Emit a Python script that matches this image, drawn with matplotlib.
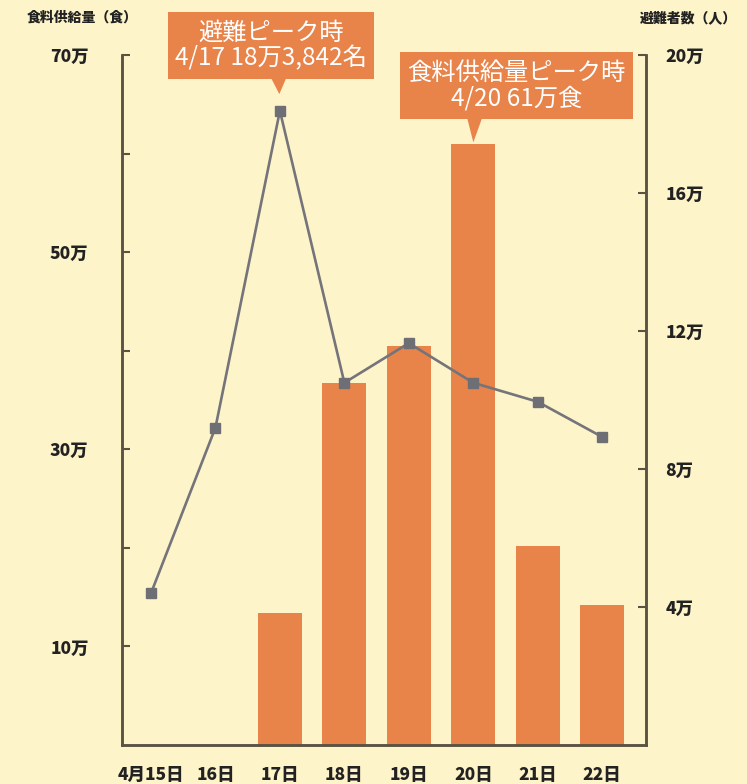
import numpy as np
import matplotlib
matplotlib.use("Agg")
import matplotlib.pyplot as plt
import matplotlib.ticker as ticker

plt.rcParams['font.family'] = ['Noto Sans CJK JP', 'DejaVu Sans']

# data (万 units)
days = ["4月15日", "16日", "17日", "18日", "19日", "20日", "21日", "22日"]
food = [0, 0, 13.4, 36.7, 40.5, 61.0, 20.2, 14.2]            # 食料供給量 (万食)
evacuees = [4.4, 9.2, 18.3842, 10.5, 11.65, 10.5, 9.95, 8.93]  # 避難者数 (万人)
food_ticks = [10, 20, 30, 40, 50, 60, 70]
evac_ticks = [4, 8, 12, 16, 20]

bg = '#FEF4CA'
orange = '#E8834A'
grey = '#74747A'
axcol = '#5A5342'

fig = plt.figure(figsize=(7.47, 7.84), dpi=100, facecolor=bg)
ax = fig.add_axes([0.1633, 0.0497, 0.8648 - 0.1633, 0.9298 - 0.0497])
ax.set_facecolor(bg)
x = np.arange(len(days))

ax.bar(x, food, width=0.68, color=orange, zorder=2)
ax.set_xlim(-0.45, 7.68)
ax.set_ylim(0, 70)

ax2 = ax.twinx()
ax2.plot(x, evacuees, color=grey, lw=1.9, marker='s', ms=7.5,
         mfc='#6E6E75', mec='#6E6E75', zorder=3)
ax2.set_ylim(0, 20)

# spines
for a in (ax, ax2):
    a.spines['top'].set_visible(False)
    for s in ('left', 'right', 'bottom'):
        a.spines[s].set_color(axcol)
        a.spines[s].set_linewidth(1.8)

ax.yaxis.set_major_locator(ticker.FixedLocator(food_ticks))
ax.yaxis.set_major_formatter(ticker.FuncFormatter(
    lambda v, p: f"{int(v)}万" if int(v) % 20 == 10 else ""))
ax.tick_params(axis='y', direction='in', length=6, width=1.5, color=axcol,
               pad=24, labelsize=12.5)
ax2.yaxis.set_major_locator(ticker.FixedLocator(evac_ticks))
ax2.yaxis.set_major_formatter(ticker.FuncFormatter(lambda v, p: f"{int(v)}万"))
ax2.tick_params(axis='y', direction='in', length=6, width=1.5, color=axcol,
                pad=14, labelsize=12.5)
ax.set_xticks(x)
ax.set_xticklabels(days)
ax.tick_params(axis='x', length=0, pad=15, labelsize=12.5)

for lab in ax.get_yticklabels() + ax2.get_yticklabels() + ax.get_xticklabels():
    lab.set_fontweight('heavy')
    lab.set_color('#222222')

fig.text(82 / 747, 1 - 18 / 784, "食料供給量（食）", ha='center', va='center',
         fontsize=10, fontweight='heavy', color='#222222')
fig.text(640 / 747, 1 - 18 / 784, "避難者数（人）", ha='left', va='center',
         fontsize=10, fontweight='heavy', color='#222222')

# callouts
peak_e = int(np.argmax(evacuees))
ax2.annotate("避難ピーク時\n4/17 18万3,842名", xy=(x[peak_e], evacuees[peak_e]),
             xytext=(-6.5, 47), textcoords='offset points',
             ha='center', va='center', fontsize=17.5, color='white',
             linespacing=0.98, zorder=10,
             bbox=dict(boxstyle='square,pad=0.3', fc=orange, ec='none'),
             arrowprops=dict(arrowstyle='wedge,tail_width=0.6,shrink_factor=0.5',
                             fc=orange, ec='none', shrinkA=0, shrinkB=12,
                             relpos=(0.54, 0.0)))

peak_f = int(np.argmax(food))
ax2.annotate("食料供給量ピーク時\n4/20 61万食", xy=(x[peak_f], food[peak_f]),
             xycoords=ax.transData,
             xytext=(31, 42), textcoords='offset points',
             ha='center', va='center', fontsize=17.5, color='white',
             linespacing=0.98, zorder=10,
             bbox=dict(boxstyle='square,pad=0.3', fc=orange, ec='none'),
             arrowprops=dict(arrowstyle='wedge,tail_width=0.6,shrink_factor=0.5',
                             fc=orange, ec='none', shrinkA=0, shrinkB=1,
                             relpos=(0.31, 0.0)))

fig.savefig("out.png", dpi=100, facecolor=bg)
